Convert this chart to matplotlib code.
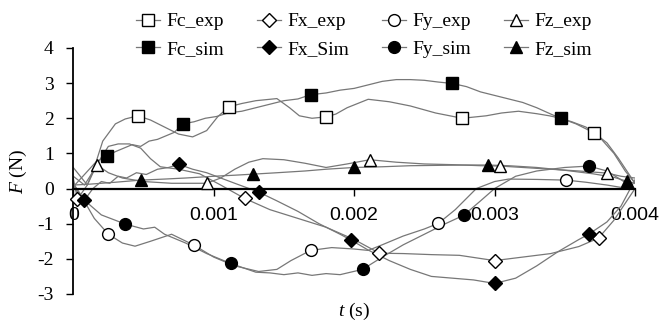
import matplotlib
matplotlib.use("Agg")
import numpy as np
import matplotlib.pyplot as plt
from matplotlib.lines import Line2D

# tempos em ms (convertidos para s no grafico)
fc_exp_t = [0, 0.05, 0.1, 0.15, 0.21, 0.3, 0.37, 0.46, 0.55, 0.65, 0.75, 0.85, 0.95, 1.03, 1.11, 1.2, 1.3, 1.45,
            1.54, 1.61, 1.7, 1.8, 1.87, 1.95, 2.1, 2.25, 2.4, 2.58, 2.77, 2.94, 3.05, 3.17, 3.3, 3.39, 3.47, 3.58,
            3.71, 3.8, 3.88, 3.95, 4.0]
fc_exp_f = [0.6, 0.35, 0.1, 0.6, 1.35, 1.84, 1.98, 2.07, 1.95, 1.75, 1.55, 1.47, 1.65, 2.05, 2.33, 2.42, 2.5, 2.56,
            2.3, 2.07, 2.0, 2.04, 2.12, 2.3, 2.54, 2.47, 2.35, 2.15, 2.0, 2.07, 2.15, 2.2, 2.13, 2.07, 2.0, 1.84,
            1.58, 1.3, 0.87, 0.45, 0.15]

fc_sim_t = [0, 0.08, 0.16, 0.24, 0.3, 0.36, 0.42, 0.48, 0.54, 0.6, 0.66, 0.72, 0.78, 0.86, 0.94, 1.02, 1.1, 1.2,
            1.3, 1.4, 1.5, 1.6, 1.69, 1.8, 1.9, 2.0, 2.1, 2.2, 2.3, 2.4, 2.5, 2.6, 2.7, 2.8, 2.9, 3.0, 3.1, 3.2,
            3.3, 3.4, 3.47, 3.55, 3.65, 3.75, 3.85, 3.93, 4.0]
fc_sim_f = [0.05, 0.4, 0.75, 0.93, 1.05, 1.15, 1.25, 1.2, 1.35, 1.4, 1.5, 1.6, 1.84, 1.9, 2.0, 2.05, 2.15, 2.2,
            2.3, 2.4, 2.5, 2.55, 2.67, 2.72, 2.8, 2.85, 2.95, 3.05, 3.1, 3.1, 3.08, 3.03, 2.99, 2.9, 2.75, 2.65,
            2.55, 2.45, 2.3, 2.12, 2.0, 1.9, 1.75, 1.45, 1.0, 0.5, 0.15]

fx_exp_t = [0, 0.03, 0.1, 0.17, 0.25, 0.32, 0.4, 0.48, 0.55, 0.62, 0.75, 0.9, 1.05, 1.22, 1.4, 1.6, 1.8, 2.0,
            2.18, 2.35, 2.55, 2.75, 3.0, 3.2, 3.4, 3.6, 3.74, 3.85, 3.95, 4.0]
fx_exp_f = [0.3, -0.3, 0.1, 0.7, 1.2, 1.27, 1.27, 1.15, 0.85, 0.62, 0.55, 0.42, 0.1, -0.28, -0.6, -0.85, -1.1,
            -1.45, -1.84, -1.85, -1.88, -1.9, -2.05, -1.95, -1.85, -1.65, -1.41, -0.9, -0.3, 0.0]

fx_sim_t = [0, 0.08, 0.14, 0.2, 0.26, 0.32, 0.38, 0.45, 0.52, 0.6, 0.68, 0.75, 0.85, 0.95, 1.05, 1.15, 1.32, 1.45,
            1.6, 1.75, 1.9, 1.98, 2.1, 2.25, 2.4, 2.55, 2.7, 2.85, 3.0, 3.15, 3.3, 3.45, 3.6, 3.67, 3.8, 3.9, 4.0]
fx_sim_f = [0.15, -0.33, 0.0, 0.2, 0.15, 0.35, 0.3, 0.45, 0.4, 0.55, 0.6, 0.69, 0.55, 0.45, 0.3, 0.15, -0.1,
            -0.35, -0.65, -1.0, -1.3, -1.47, -1.75, -2.05, -2.3, -2.5, -2.55, -2.6, -2.7, -2.55, -2.2, -1.8,
            -1.45, -1.3, -0.95, -0.5, 0.25]

fy_exp_t = [0, 0.07, 0.15, 0.25, 0.35, 0.44, 0.55, 0.7, 0.86, 1.0, 1.15, 1.32, 1.45, 1.55, 1.69, 1.84, 2.0, 2.1,
            2.2, 2.35, 2.5, 2.6, 2.72, 2.87, 3.0, 3.1, 3.3, 3.51, 3.65, 3.8, 3.92, 4.0]
fy_exp_f = [0.1, -0.3, -0.85, -1.3, -1.55, -1.64, -1.5, -1.3, -1.61, -1.95, -2.2, -2.36, -2.3, -2.05, -1.76,
            -1.68, -1.72, -1.76, -1.6, -1.35, -1.15, -0.99, -0.6, 0.0, 0.2, 0.27, 0.26, 0.24, 0.18, 0.1, 0.02, 0.0]

fy_sim_t = [0, 0.07, 0.2, 0.37, 0.5, 0.58, 0.65, 0.8, 0.95, 1.12, 1.3, 1.4, 1.5, 1.6, 1.7, 1.8, 1.9, 2.06, 2.2,
            2.35, 2.5, 2.65, 2.78, 2.9, 3.0, 3.15, 3.3, 3.5, 3.67, 3.8, 3.92, 4.0]
fy_sim_f = [0.05, -0.3, -0.75, -1.01, -1.15, -1.1, -1.3, -1.55, -1.85, -2.13, -2.38, -2.4, -2.45, -2.4, -2.47,
            -2.42, -2.45, -2.3, -1.95, -1.6, -1.3, -1.0, -0.76, -0.35, 0.0, 0.35, 0.5, 0.6, 0.64, 0.5, 0.2, 0.0]

fz_exp_t = [0, 0.08, 0.17, 0.25, 0.35, 0.5, 0.7, 0.95, 1.05, 1.15, 1.25, 1.35, 1.5, 1.65, 1.8, 1.95, 2.11, 2.3,
            2.5, 2.7, 2.9, 3.04, 3.2, 3.4, 3.6, 3.8, 3.9, 4.0]
fz_exp_f = [0.35, 0.1, 0.67, 0.45, 0.3, 0.2, 0.15, 0.15, 0.3, 0.55, 0.75, 0.85, 0.82, 0.72, 0.6, 0.7, 0.82, 0.75,
            0.7, 0.68, 0.65, 0.64, 0.6, 0.55, 0.5, 0.44, 0.35, 0.3]

fz_sim_t = [0, 0.1, 0.2, 0.3, 0.48, 0.65, 0.8, 1.0, 1.15, 1.28, 1.45, 1.65, 1.8, 2.0, 2.2, 2.4, 2.6, 2.8, 2.95,
            3.1, 3.3, 3.5, 3.7, 3.85, 3.94, 4.0]
fz_sim_f = [0.1, 0.12, 0.15, 0.18, 0.24, 0.27, 0.3, 0.35, 0.38, 0.41, 0.45, 0.5, 0.55, 0.6, 0.62, 0.65, 0.66,
            0.67, 0.67, 0.65, 0.6, 0.52, 0.42, 0.32, 0.21, 0.15]

# pontos com marcador
fc_exp_mt, fc_exp_mf = [0.46, 1.11, 1.8, 2.77, 3.71], [2.07, 2.33, 2.04, 2.0, 1.58]
fc_sim_mt, fc_sim_mf = [0.24, 0.78, 1.69, 2.7, 3.47], [0.93, 1.84, 2.67, 2.99, 2.0]
fx_exp_mt, fx_exp_mf = [0.03, 1.22, 2.18, 3.0, 3.74], [-0.3, -0.28, -1.84, -2.05, -1.41]
fx_sim_mt, fx_sim_mf = [0.08, 0.75, 1.32, 1.98, 3.0, 3.67], [-0.33, 0.69, -0.1, -1.47, -2.7, -1.3]
fy_exp_mt, fy_exp_mf = [0.25, 0.86, 1.69, 2.6, 3.51], [-1.3, -1.61, -1.76, -0.99, 0.24]
fy_sim_mt, fy_sim_mf = [0.37, 1.12, 2.06, 2.78, 3.67], [-1.01, -2.13, -2.3, -0.76, 0.64]
fz_exp_mt, fz_exp_mf = [0.17, 0.95, 2.11, 3.04, 3.8], [0.67, 0.15, 0.82, 0.64, 0.44]
fz_sim_mt, fz_sim_mf = [0.48, 1.28, 2.0, 2.95, 3.94], [0.24, 0.41, 0.6, 0.67, 0.21]

x_ticks = [0, 0.001, 0.002, 0.003, 0.004]
x_labels = ["0", "0.001", "0.002", "0.003", "0.004"]
y_ticks = [-3, -2, -1, 0, 1, 2, 3, 4]

plt.rcParams["mathtext.fontset"] = "custom"
plt.rcParams["mathtext.it"] = "Liberation Serif:italic"
plt.rcParams["mathtext.rm"] = "Liberation Serif"

fig = plt.figure(figsize=(6.72, 3.22), dpi=100)
ax = fig.add_axes([0.109, 0.087, 0.836, 0.764])

cinza = "#777777"
series = [
    ("Fc_exp", fc_exp_t, fc_exp_f, fc_exp_mt, fc_exp_mf, "s", "white", 8),
    ("Fc_sim", fc_sim_t, fc_sim_f, fc_sim_mt, fc_sim_mf, "s", "black", 8),
    ("Fx_exp", fx_exp_t, fx_exp_f, fx_exp_mt, fx_exp_mf, "D", "white", 7),
    ("Fx_Sim", fx_sim_t, fx_sim_f, fx_sim_mt, fx_sim_mf, "D", "black", 7),
    ("Fy_exp", fy_exp_t, fy_exp_f, fy_exp_mt, fy_exp_mf, "o", "white", 8.5),
    ("Fy_sim", fy_sim_t, fy_sim_f, fy_sim_mt, fy_sim_mf, "o", "black", 8.5),
    ("Fz_exp", fz_exp_t, fz_exp_f, fz_exp_mt, fz_exp_mf, "^", "white", 8.5),
    ("Fz_sim", fz_sim_t, fz_sim_f, fz_sim_mt, fz_sim_mf, "^", "black", 8.5),
]

handles = []
for nome, t, f, mt, mf, mk, cor, ms in series:
    ax.plot(np.array(t) * 1e-3, f, color=cinza, lw=0.9, zorder=2)
    ax.plot(np.array(mt) * 1e-3, mf, ls="none", marker=mk, ms=ms, mfc=cor, mec="black", mew=1.0,
            zorder=4, clip_on=False)
    handles.append(Line2D([], [], color=cinza, lw=0.9, marker=mk, ms=ms, mfc=cor, mec="black",
                          mew=1.0, label=nome))

ax.set_xlim(0, 0.004)
ax.set_ylim(-3, 4)

ax.spines["top"].set_visible(False)
ax.spines["right"].set_visible(False)
ax.spines["bottom"].set_position(("data", 0))
ax.spines["bottom"].set_linewidth(1.6)
ax.spines["left"].set_linewidth(1.3)
ax.spines["bottom"].set_zorder(3)

ax.set_xticks(x_ticks)
ax.set_xticklabels(x_labels, family="Liberation Sans", fontsize=14)
ax.set_yticks(y_ticks)
ax.set_yticklabels([str(v) for v in y_ticks], family="Liberation Serif", fontsize=14)
ax.tick_params(axis="x", direction="out", length=5, width=1, pad=8)
ax.tick_params(axis="y", direction="out", length=5, width=1, pad=9)

ax.set_ylabel(r"$\mathit{F}$ (N)", family="Liberation Serif", fontsize=14)
ax.yaxis.set_label_coords(-0.098, 0.5)
ax.yaxis.label.set_va("center")
ax.set_xlabel(r"$\mathit{t}$ (s)", family="Liberation Serif", fontsize=14)
ax.xaxis.set_label_coords(0.5, -0.069)
ax.xaxis.label.set_va("center")

fig.legend(handles=handles, ncol=4, loc="upper center", bbox_to_anchor=(0.542, 0.96),
           frameon=False, prop={"family": "Liberation Serif", "size": 14},
           handlelength=1.2, handletextpad=0.35, columnspacing=1.7, labelspacing=0.5,
           borderpad=0, borderaxespad=0)

fig.savefig("out.png", dpi=100, facecolor="white")
